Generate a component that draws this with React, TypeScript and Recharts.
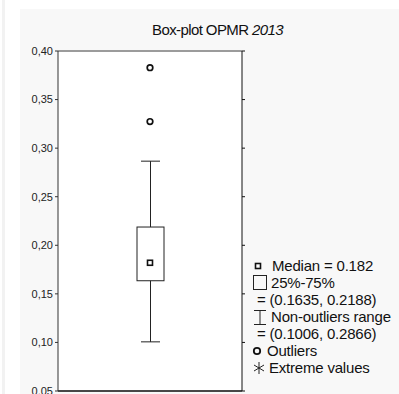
import React from 'react';
import {
  ComposedChart,
  Bar,
  Scatter,
  XAxis,
  YAxis,
  CartesianGrid,
  ReferenceLine,
} from 'recharts';

const categories = ['OPMR 2013'];
const q1 = [0.1635];
const q3 = [0.2188];
const medians = [0.182];
const whiskerLow = [0.1006];
const whiskerHigh = [0.2866];
const outliers = [0.3828, 0.3274];
const yTicks = [0.05, 0.1, 0.15, 0.2, 0.25, 0.3, 0.35, 0.4];

// one row per category; outliers get their own keys so they share the band
const rows = categories.map((cat, i) => {
  const row: Record<string, any> = {
    cat,
    box: [q1[i], q3[i]],
    whisker: [whiskerLow[i], whiskerHigh[i]],
    median: medians[i],
  };
  outliers.forEach((v, j) => {
    row[`out${j}`] = v;
  });
  return row;
});

const FONT = '"Liberation Sans", Arial, sans-serif';

const WhiskerShape = (props: any) => {
  const { x, y, width, height } = props;
  const cx = x + width / 2;
  const cap = 9.5;
  return (
    <g stroke="#222" strokeWidth={1}>
      <line x1={cx} y1={y} x2={cx} y2={y + height} />
      <line x1={cx - cap} y1={y} x2={cx + cap} y2={y} />
      <line x1={cx - cap} y1={y + height} x2={cx + cap} y2={y + height} />
    </g>
  );
};

const BoxShape = (props: any) => {
  const { x, y, width, height } = props;
  return <rect x={x} y={y} width={width} height={height} fill="#fff" stroke="#222" strokeWidth={1} />;
};

const MedianShape = (props: any) => {
  const { cx, cy } = props;
  return <rect x={cx - 2.5} y={cy - 2.5} width={5} height={5} fill="#fff" stroke="#111" strokeWidth={1.6} />;
};

const OutlierShape = (props: any) => {
  const { cx, cy } = props;
  return <circle cx={cx} cy={cy} r={2.8} fill="#fff" stroke="#111" strokeWidth={1.7} />;
};

const legendRow: React.CSSProperties = {
  position: 'absolute',
  fontFamily: FONT,
  fontSize: 15,
  letterSpacing: -0.2,
  color: '#111',
  whiteSpace: 'nowrap',
  lineHeight: '17px',
};

const App: React.FC = () => {
  return (
    <div style={{ position: 'absolute', left: 0, top: 0, width: 399, height: 394, background: '#fff', overflow: 'hidden' }}>
      <div style={{ position: 'absolute', left: 2, top: 0, width: 3, height: 394, background: '#f2f2f2' }} />
      <div style={{ position: 'absolute', left: 20, top: 9, width: 379, height: 385, background: '#f8f8f8' }} />
      <div
        style={{
          position: 'absolute',
          left: 117,
          top: 21,
          width: 201,
          textAlign: 'center',
          fontFamily: FONT,
          fontSize: 15,
          letterSpacing: -0.6,
          color: '#111',
          lineHeight: '18px',
        }}
      >
        Box-plot OPMR <i>2013</i>
      </div>
      <div style={{ position: 'absolute', left: 0, top: 0 }}>
        <ComposedChart
          width={399}
          height={394}
          data={rows}
          margin={{ top: 51, right: 153, bottom: 3, left: 0 }}
          barGap={-27}
        >
          <CartesianGrid vertical={false} stroke="#dadada" fill="#fff" />
          <XAxis dataKey="cat" type="category" hide />
          <YAxis
            yAxisId="left"
            domain={[0.05, 0.4]}
            ticks={yTicks}
            interval={0}
            width={58}
            tickSize={3}
            tickLine={{ stroke: '#333' }}
            axisLine={{ stroke: '#333' }}
            tick={{ fill: '#222', fontSize: 11, fontFamily: FONT }}
            tickFormatter={(v: number) => v.toFixed(2).replace('.', ',')}
            allowDataOverflow
          />
          <YAxis
            yAxisId="right"
            orientation="right"
            domain={[0.05, 0.4]}
            ticks={yTicks}
            interval={0}
            width={4}
            tickSize={3}
            tickLine={{ stroke: '#111' }}
            axisLine={{ stroke: '#111' }}
            tickFormatter={() => ''}
            allowDataOverflow
          />
          <ReferenceLine yAxisId="left" y={0.4} stroke="#808080" strokeWidth={1.5} />
          <ReferenceLine yAxisId="left" y={0.05} stroke="#111" strokeWidth={1.5} />
          <Bar yAxisId="left" dataKey="whisker" barSize={27} shape={<WhiskerShape />} isAnimationActive={false} />
          <Bar yAxisId="left" dataKey="box" barSize={27} shape={<BoxShape />} isAnimationActive={false} />
          <Scatter yAxisId="left" dataKey="median" shape={<MedianShape />} isAnimationActive={false} />
          {outliers.map((_, j) => (
            <Scatter
              key={`out${j}`}
              yAxisId="left"
              dataKey={`out${j}`}
              shape={<OutlierShape />}
              isAnimationActive={false}
            />
          ))}
        </ComposedChart>
      </div>

      <svg style={{ position: 'absolute', left: 0, top: 0 }} width={399} height={394}>
        <rect x={255.5} y={263.5} width={5} height={5} fill="#fff" stroke="#111" strokeWidth={1.6} />
        <rect x={253.5} y={275.5} width={13} height={14} fill="none" stroke="#222" strokeWidth={1} />
        <g stroke="#222" strokeWidth={1}>
          <line x1={254} y1={310.5} x2={266} y2={310.5} />
          <line x1={260} y1={310.5} x2={260} y2={324.5} />
          <line x1={254} y1={324.5} x2={266} y2={324.5} />
        </g>
        <circle cx={257} cy={351} r={3.2} fill="none" stroke="#111" strokeWidth={1.8} />
        <g stroke="#222" strokeWidth={1}>
          <line x1={259} y1={362} x2={259} y2={374} />
          <line x1={254} y1={365} x2={264} y2={371} />
          <line x1={254} y1={371} x2={264} y2={365} />
        </g>
      </svg>
      <div style={{ ...legendRow, left: 272, top: 257 }}>Median = 0.182</div>
      <div style={{ ...legendRow, left: 271, top: 274 }}>25%-75%</div>
      <div style={{ ...legendRow, left: 257, top: 291 }}>= (0.1635, 0.2188)</div>
      <div style={{ ...legendRow, left: 271, top: 308 }}>Non-outliers range</div>
      <div style={{ ...legendRow, left: 257, top: 325 }}>= (0.1006, 0.2866)</div>
      <div style={{ ...legendRow, left: 267, top: 342 }}>Outliers</div>
      <div style={{ ...legendRow, left: 269, top: 359 }}>Extreme values</div>
    </div>
  );
};

export default App;
